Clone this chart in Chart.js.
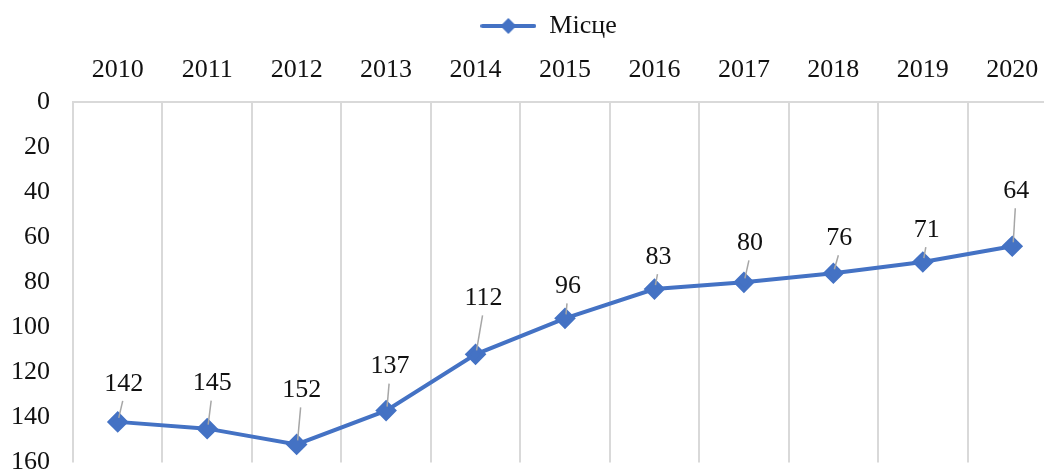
<!DOCTYPE html>
<html>
<head>
<meta charset="utf-8">
<script src="https://cdn.jsdelivr.net/npm/chart.js@4/dist/chart.umd.min.js"></script>
<style>
  html, body { margin: 0; padding: 0; overflow: hidden; background: #fff; }
  canvas { display: block; }
</style>
</head>
<body>
<canvas id="myChart" width="1096" height="501"></canvas>
<script>
// дані
var years = ['2010', '2011', '2012', '2013', '2014', '2015', '2016', '2017', '2018', '2019', '2020'];
var places = [142, 145, 152, 137, 112, 96, 83, 80, 76, 71, 64];
var seriesName = 'Місце';

// ручні зсуви підписів (як перетягнуто в Excel), px
var labelShift = [[6, -38], [5, -45], [5, -54], [4, -44], [8, -56], [3, -32], [4, -32], [6, -39], [6, -35], [4, -32], [4, -55]];

var blue = '#4472C4';
var font = 'Liberation Serif';

// значок легенди: лінія з ромбом
var legendIcon = document.createElement('canvas');
legendIcon.width = 56;
legendIcon.height = 18;
(function () {
    var c = legendIcon.getContext('2d');
    c.strokeStyle = blue;
    c.lineWidth = 4;
    c.lineCap = 'round';
    c.beginPath();
    c.moveTo(2, 9);
    c.lineTo(54, 9);
    c.stroke();
    c.fillStyle = blue;
    c.beginPath();
    c.moveTo(28, 1);
    c.lineTo(36, 9);
    c.lineTo(28, 17);
    c.lineTo(20, 9);
    c.closePath();
    c.fill();
})();

// легенда в Excel не по центру області графіка
var legendShift = {
    id: 'legendShift',
    afterLayout: function (chart) {
        chart.legend.left += 20;
        chart.legend.right += 20;
    }
};

var dataLabels = {
    id: 'dataLabels',
    afterDatasetsDraw: function (chart) {
        var ctx = chart.ctx;
        var meta = chart.getDatasetMeta(0);
        ctx.save();
        ctx.font = '26px "' + font + '"';
        ctx.textAlign = 'center';
        ctx.textBaseline = 'middle';
        meta.data.forEach(function (pt, i) {
            var lx = pt.x + labelShift[i][0];
            var ly = pt.y + labelShift[i][1];
            var top = ly + 17;
            var bottom = pt.y - 4;
            if (bottom - top > 3) {
                ctx.strokeStyle = '#a6a6a6';
                ctx.lineWidth = 1.5;
                ctx.beginPath();
                ctx.moveTo(lx - 1, top);
                ctx.lineTo(pt.x + 1, bottom);
                ctx.stroke();
            }
            ctx.fillStyle = '#111';
            ctx.fillText(String(places[i]), lx, ly);
        });
        ctx.restore();
    }
};

var ctx = document.getElementById('myChart').getContext('2d');
var myChart = new Chart(ctx, {
    type: 'line',
    data: {
        labels: years,
        datasets: [{
            label: seriesName,
            data: places,
            borderColor: blue,
            backgroundColor: blue,
            borderWidth: 4,
            pointStyle: 'rectRot',
            pointRadius: 8,
            pointHoverRadius: 8,
            pointBackgroundColor: blue,
            pointBorderColor: blue,
            tension: 0
        }]
    },
    options: {
        responsive: false,
        animation: false,
        devicePixelRatio: 1,
        layout: { padding: { left: 0, right: 39, top: 10, bottom: 16 } },
        plugins: {
            tooltip: { enabled: false },
            legend: {
                position: 'top',
                labels: {
                    usePointStyle: true,
                    pointStyle: legendIcon,
                    pointStyleWidth: 56,
                    color: '#111',
                    font: { family: font, size: 26 },
                    padding: 3
                }
            }
        },
        scales: {
            x: {
                position: 'top',
                offset: true,
                grid: { offset: true, color: '#d9d9d9', lineWidth: 2, drawTicks: false },
                border: { display: true, color: '#d9d9d9', width: 2 },
                ticks: {
                    color: '#111',
                    font: { family: font, size: 26 },
                    padding: 16,
                    maxRotation: 0,
                    autoSkip: false
                },
                afterFit: function (scale) { scale.height -= 10; }
            },
            y: {
                reverse: true,
                min: 0,
                max: 160,
                grid: { display: false, drawTicks: false },
                border: { display: false },
                ticks: {
                    stepSize: 20,
                    color: '#111',
                    font: { family: font, size: 26 },
                    padding: 23
                },
                afterFit: function (scale) { scale.width = 73; }
            }
        }
    },
    plugins: [legendShift, dataLabels]
});
</script>
</body>
</html>
